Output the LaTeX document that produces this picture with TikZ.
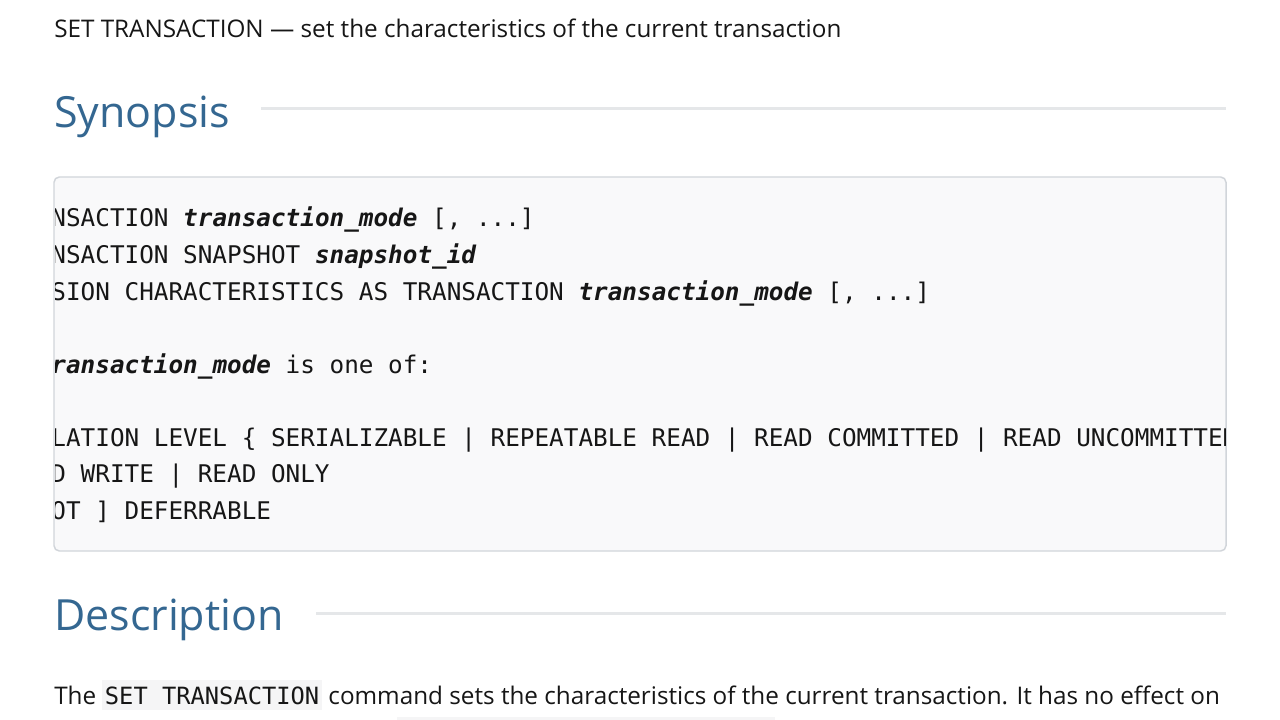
\documentclass[tikz,border=0pt]{standalone}
\usepackage{fontspec}
\setmainfont{Open Sans}
\setmonofont{DejaVu Sans Mono}
\usepackage{xcolor}
\usetikzlibrary{positioning}

\definecolor{headblue}{RGB}{52,103,145}
\definecolor{bodyink}{RGB}{22,22,22}
\definecolor{rulegray}{RGB}{229,231,233}
\definecolor{boxfill}{RGB}{249,249,250}
\definecolor{boxline}{RGB}{209,213,218}
\definecolor{inlinefill}{RGB}{245,245,246}

\tikzset{
  txt/.style={inner sep=0pt, anchor=base west, text=bodyink, font=\fontsize{18.2}{21}\selectfont},
  heading/.style={inner sep=0pt, anchor=base west, text=headblue, font=\fontsize{32.2}{36}\selectfont},
  codeline/.style={inner sep=0pt, anchor=base west, text=bodyink, font=\fontsize{18.24}{22}\selectfont\ttfamily},
  headrule/.style={rulegray, line width=2.25pt},
  inlinecode/.style={inner xsep=2pt, inner ysep=0pt, anchor=base west, fill=inlinefill, text=bodyink,
    text height=18pt, text depth=4.5pt, font=\fontsize{17.8}{20}\selectfont\ttfamily}
}
\newcommand{\argname}[1]{\textbf{\textit{#1}}}

\begin{document}
\begin{tikzpicture}[x=0.75pt, y=-0.75pt]
\useasboundingbox (0,0) rectangle (1280,720);
\fill[white] (0,0) rectangle (1280,720);

% page title
\node[txt] (title) at (54,38) {SET TRANSACTION — set the characteristics of the current transaction};

% Synopsis heading and its rule
\node[heading] (synopsis) at (54,128) {Synopsis};
\coordinate (synend) at (1226,109);
\draw[headrule] (261,109) -- (synend);

% code box
\draw[boxline, fill=boxfill, line width=1.1pt, rounded corners=4pt] (54,177) rectangle (1226,551);
\begin{scope}
\clip (55,178) rectangle (1225,550);
\node[codeline] (c1) at (-51.3,227) {SET TRANSACTION \argname{transaction\_mode} [, ...]};
\node[codeline] (c2) at (-51.3,263.5) {SET TRANSACTION SNAPSHOT \argname{snapshot\_id}};
\node[codeline] (c3) at (-51.3,300) {SET SESSION CHARACTERISTICS AS TRANSACTION \argname{transaction\_mode} [, ...]};
\node[codeline] (c5) at (-51.3,373) {where \argname{transaction\_mode} is one of:};
\node[codeline] (c7) at (7.26,446) {ISOLATION LEVEL \{ SERIALIZABLE | REPEATABLE READ | READ COMMITTED | READ UNCOMMITTED \}};
\node[codeline] (c8) at (7.26,482.5) {READ WRITE | READ ONLY};
\node[codeline] (c9) at (7.26,519) {[ NOT ] DEFERRABLE};
\end{scope}

% Description heading and its rule
\node[heading] (description) at (54,630) {Description};
\coordinate (descend) at (1226,613);
\draw[headrule] (316,613) -- (descend);

% first body line
\node[txt] (the) at (54,704) {The};
\node[inlinecode] (setcmd) at (102,704) {SET TRANSACTION};
\node[txt, right=4.5pt of setcmd.base east, anchor=base west] (rest) {command sets the characteristics of the current transaction. It has no effect on};
\fill[inlinefill] (397,717) rectangle (775,720);
\end{tikzpicture}
\end{document}
